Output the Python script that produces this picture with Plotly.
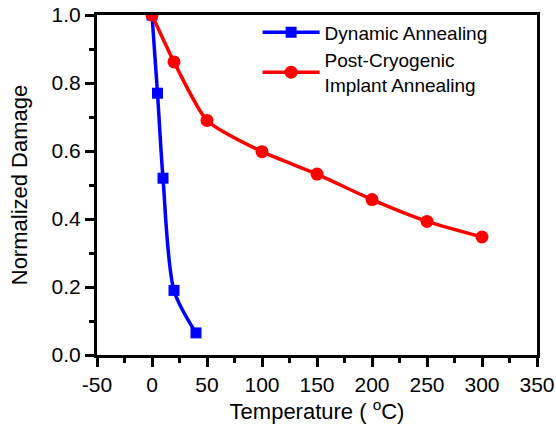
import plotly.graph_objects as go

dyn_x = [0, 5, 10, 20, 40]
dyn_y = [1.0, 0.77, 0.52, 0.19, 0.065]
post_x = [0, 20, 50, 100, 150, 200, 250, 300]
post_y = [1.0, 0.862, 0.69, 0.598, 0.532, 0.457, 0.393, 0.347]
x_ticks = [-50, 0, 50, 100, 150, 200, 250, 300, 350]
x_tick_labels = ['-50', '0', '50', '100', '150', '200', '250', '300', '350']

FONT = 'Liberation Sans, Arial'

fig = go.Figure()
fig.add_trace(go.Scatter(x=dyn_x, y=dyn_y, mode='lines+markers', name='Dynamic Annealing',
                         line=dict(color='#0000ff', width=3.5, shape='spline', smoothing=0.8),
                         marker=dict(symbol='square', size=11, color='#0000ff')))
fig.add_trace(go.Scatter(x=post_x, y=post_y, mode='lines+markers',
                         name='Post-Cryogenic<br>Implant Annealing',
                         line=dict(color='#ff0000', width=3.5, shape='spline', smoothing=0.6),
                         marker=dict(symbol='circle', size=13, color='#ff0000')))

axis_common = dict(showline=True, linecolor='black', linewidth=3, mirror=True,
                   ticks='outside', ticklen=9, tickwidth=2.5, tickcolor='black',
                   showgrid=False, zeroline=False, automargin=False,
                   tickfont=dict(family=FONT, size=21, color='black'))

fig.update_xaxes(range=[-50, 350], tickvals=x_ticks, ticktext=x_tick_labels,
                 minor=dict(ticks='outside', ticklen=5, tickwidth=2.5, dtick=25, tickcolor='black'),
                 title=dict(text='Temperature ( <sup>o</sup>C)', standoff=6,
                            font=dict(family=FONT, size=22, color='black')),
                 **axis_common)
fig.update_yaxes(range=[0, 1.0], dtick=0.2, tickformat='.1f',
                 minor=dict(ticks='outside', ticklen=5, tickwidth=2.5, dtick=0.1, tickcolor='black'),
                 title=dict(text='Normalized Damage', standoff=18,
                            font=dict(family=FONT, size=22, color='black')),
                 **axis_common)

fig.update_layout(width=556, height=428, margin=dict(l=97, r=19, t=15, b=73),
                  plot_bgcolor='white', paper_bgcolor='white',
                  legend=dict(x=0.365, y=1.005, xanchor='left', yanchor='top',
                              bgcolor='rgba(0,0,0,0)',
                              font=dict(family=FONT, size=19, color='black'),
                              tracegroupgap=0, itemwidth=57),
                  showlegend=True)

fig.write_html('out.html')
